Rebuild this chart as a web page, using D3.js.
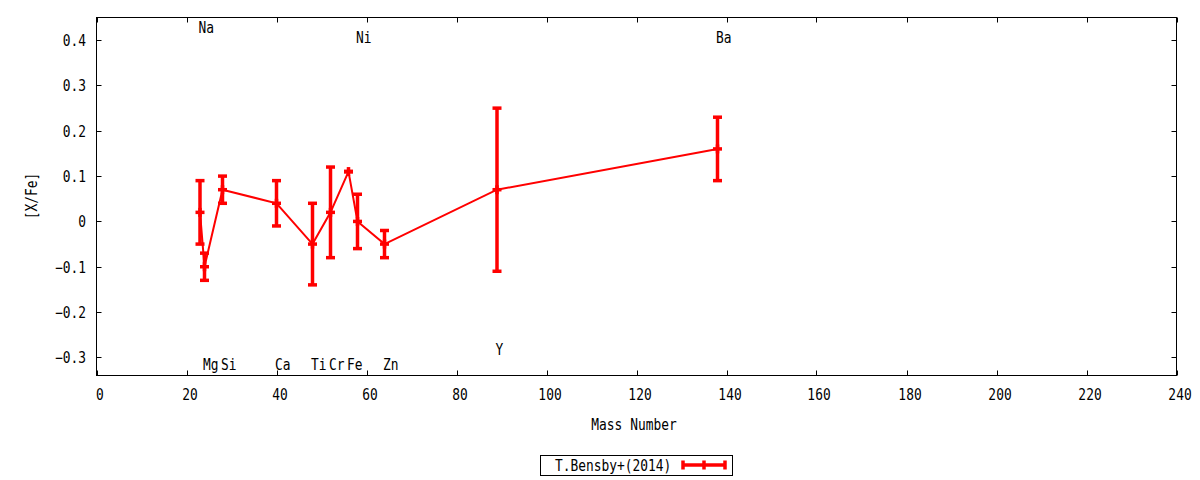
<!DOCTYPE html>
<html>
<head>
<meta charset="utf-8">
<script src="https://cdn.jsdelivr.net/npm/d3@7"></script>
<style>
  body { margin: 0; background: #fff; }
  svg { display: block; }
  text { font-family: "DejaVu Sans Mono", monospace; font-size: 15px; fill: #000; }
</style>
</head>
<body>
<svg id="chart" width="1200" height="480"></svg>
<script>
// abundance ratios [X/Fe] vs mass number, T.Bensby+(2014)
const elements = ['Na', 'Mg', 'Si', 'Ca', 'Ti', 'Cr', 'Fe', 'Ni', 'Zn', 'Y', 'Ba'];
const massNumber = [23, 24, 28, 40, 48, 52, 56, 58, 64, 89, 138];
const xfe = [0.02, -0.10, 0.07, 0.04, -0.05, 0.02, 0.11, 0.00, -0.05, 0.07, 0.16];
const xfeLow = [-0.05, -0.13, 0.04, -0.01, -0.14, -0.08, 0.11, -0.06, -0.08, -0.11, 0.09];
const xfeHigh = [0.09, -0.07, 0.10, 0.09, 0.04, 0.12, 0.11, 0.06, -0.02, 0.25, 0.23];
// where the element names are written (y in data units)
const labelY = [0.428, -0.315, -0.315, -0.315, -0.315, -0.315, -0.315, 0.405, -0.315, -0.282, 0.405];

const xTicks = d3.range(0, 241, 20);
const yTicks = [-0.3, -0.2, -0.1, 0, 0.1, 0.2, 0.3, 0.4];
const seriesName = 'T.Bensby+(2014)';

const plotLeft = 96.5, plotRight = 1176.5, plotTop = 17.5, plotBottom = 375.5;
const red = '#ff0000';
const squeeze = 0.86;   // narrow the mono font a bit like the original terminal font

const svg = d3.select('#chart');

const x = d3.scaleLinear().domain([0, 240]).range([plotLeft, plotRight]);
const y = d3.scaleLinear().domain([-0.34, 0.45]).range([plotBottom, plotTop]);

function label(g, px, py, s, anchor) {
  return g.append('text')
    .attr('transform', 'translate(' + px + ',' + py + ') scale(' + squeeze + ',1)')
    .attr('text-anchor', anchor || 'start')
    .text(s);
}

// frame
svg.append('rect')
  .attr('x', plotLeft).attr('y', plotTop)
  .attr('width', plotRight - plotLeft).attr('height', plotBottom - plotTop)
  .attr('fill', 'none').attr('stroke', '#000').attr('stroke-width', 1);

// ticks, mirrored on all sides like gnuplot
const tickLen = 5;
const axes = svg.append('g').attr('stroke', '#000').attr('stroke-width', 1);
xTicks.forEach(function(t) {
  let px = Math.round(x(t)) + 0.5;
  axes.append('line').attr('x1', px).attr('x2', px).attr('y1', plotBottom).attr('y2', plotBottom - tickLen);
  axes.append('line').attr('x1', px).attr('x2', px).attr('y1', plotTop).attr('y2', plotTop + tickLen);
  label(svg, px + 2.5, 400, t, 'middle');
});
yTicks.forEach(function(t) {
  let py = Math.round(y(t)) + 0.5;
  axes.append('line').attr('x1', plotLeft).attr('x2', plotLeft + tickLen).attr('y1', py).attr('y2', py);
  axes.append('line').attr('x1', plotRight).attr('x2', plotRight - tickLen).attr('y1', py).attr('y2', py);
  label(svg, 86, py + 5.5, t === 0 ? '0' : d3.format('.1f')(t), 'end');
});

// axis titles
label(svg, 634, 430, 'Mass Number', 'middle');
svg.append('text')
  .attr('transform', 'translate(37,196) rotate(-90) scale(' + squeeze + ',1)')
  .attr('text-anchor', 'middle')
  .text('[X/Fe]');

// data line
const points = massNumber.map(function(m, i) { return [m, xfe[i]]; });
svg.append('path')
  .datum(points)
  .attr('fill', 'none')
  .attr('stroke', red)
  .attr('stroke-width', 2)
  .attr('d', d3.line().x(function(d) { return x(d[0]); }).y(function(d) { return y(d[1]); }));

// error bars with caps and a '+' marker at the value
const capW = 9;
const plusW = 9;
const bars = svg.append('g').attr('stroke', red).attr('stroke-width', 3.5);
massNumber.forEach(function(m, i) {
  let px = x(m);
  bars.append('line').attr('x1', px).attr('x2', px).attr('y1', y(xfeLow[i])).attr('y2', y(xfeHigh[i]));
  [xfeLow[i], xfeHigh[i]].forEach(function(v) {
    bars.append('line')
      .attr('x1', px - capW / 2).attr('x2', px + capW / 2)
      .attr('y1', y(v)).attr('y2', y(v));
  });
  let py = y(xfe[i]);
  bars.append('line').attr('x1', px - plusW / 2).attr('x2', px + plusW / 2).attr('y1', py).attr('y2', py);
  bars.append('line').attr('x1', px).attr('x2', px).attr('y1', py - plusW / 2).attr('y2', py + plusW / 2);
});

// element names
elements.forEach(function(e, i) {
  label(svg, x(massNumber[i]) - 1.5, y(labelY[i]) + 5.5, e, 'start');
});

// key
const key = svg.append('g');
key.append('rect')
  .attr('x', 540.5).attr('y', 455.5).attr('width', 192).attr('height', 20)
  .attr('fill', 'none').attr('stroke', '#000').attr('stroke-width', 1);
label(key, 555, 470.5, seriesName, 'start');
const kx1 = 683, kx2 = 725, ky = 465;
const keyBar = key.append('g').attr('stroke', red).attr('stroke-width', 3.5);
keyBar.append('line').attr('x1', kx1).attr('x2', kx2).attr('y1', ky).attr('y2', ky);
[kx1, (kx1 + kx2) / 2, kx2].forEach(function(kx) {
  keyBar.append('line').attr('x1', kx).attr('x2', kx).attr('y1', ky - 4.5).attr('y2', ky + 4.5);
});
</script>
</body>
</html>
